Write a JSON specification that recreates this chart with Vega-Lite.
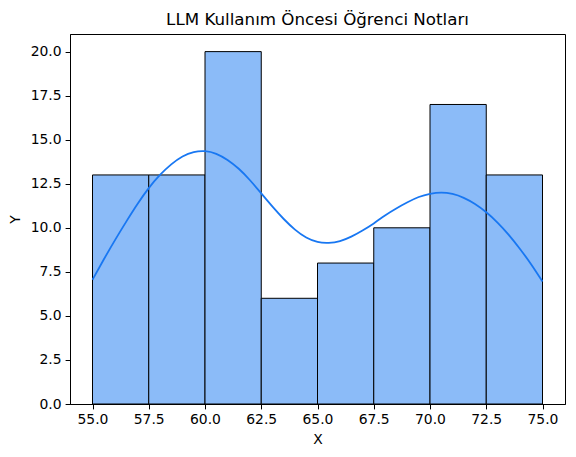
{
  "$schema": "https://vega.github.io/schema/vega-lite/v6.json",
  "width": 495,
  "height": 370,
  "autosize": {"type": "none"},
  "padding": {"left": 70, "top": 34, "right": 11, "bottom": 53},
  "background": "white",
  "config": {
    "font": "DejaVu Sans",
    "view": {"stroke": "black", "strokeWidth": 1},
    "axis": {
      "labelFont": "DejaVu Sans",
      "labelFontSize": 13.9,
      "labelColor": "black",
      "titleFont": "DejaVu Sans",
      "titleFontSize": 13.9,
      "titleFontWeight": "normal",
      "titleColor": "black",
      "domainColor": "black",
      "tickColor": "black",
      "tickSize": 4.9,
      "labelPadding": 4,
      "grid": false
    }
  },
  "title": {
    "text": "LLM Kullanım Öncesi Öğrenci Notları",
    "font": "DejaVu Sans",
    "fontSize": 16.7,
    "fontWeight": "normal",
    "color": "black",
    "anchor": "middle",
    "offset": 5
  },
  "datasets": {
    "bins": [
      {"bin_start": 55.0, "bin_end": 57.5, "count": 13},
      {"bin_start": 57.5, "bin_end": 60.0, "count": 13},
      {"bin_start": 60.0, "bin_end": 62.5, "count": 20},
      {"bin_start": 62.5, "bin_end": 65.0, "count": 6},
      {"bin_start": 65.0, "bin_end": 67.5, "count": 8},
      {"bin_start": 67.5, "bin_end": 70.0, "count": 10},
      {"bin_start": 70.0, "bin_end": 72.5, "count": 17},
      {"bin_start": 72.5, "bin_end": 75.0, "count": 13}
    ],
    "kde": [
      {"x": 55.0, "y": 7.05},
      {"x": 55.5, "y": 8.2},
      {"x": 56.0, "y": 9.3},
      {"x": 56.5, "y": 10.35},
      {"x": 57.0, "y": 11.35},
      {"x": 57.5, "y": 12.25},
      {"x": 58.0, "y": 13.0},
      {"x": 58.5, "y": 13.6},
      {"x": 59.0, "y": 14.05},
      {"x": 59.5, "y": 14.3},
      {"x": 60.0, "y": 14.35},
      {"x": 60.5, "y": 14.2},
      {"x": 61.0, "y": 13.85},
      {"x": 61.5, "y": 13.35},
      {"x": 62.0, "y": 12.7},
      {"x": 62.5, "y": 11.95},
      {"x": 63.0, "y": 11.2},
      {"x": 63.5, "y": 10.5},
      {"x": 64.0, "y": 9.9},
      {"x": 64.5, "y": 9.45},
      {"x": 65.0, "y": 9.2},
      {"x": 65.5, "y": 9.15},
      {"x": 66.0, "y": 9.25},
      {"x": 66.5, "y": 9.5},
      {"x": 67.0, "y": 9.85},
      {"x": 67.5, "y": 10.25},
      {"x": 68.0, "y": 10.7},
      {"x": 68.5, "y": 11.1},
      {"x": 69.0, "y": 11.45},
      {"x": 69.5, "y": 11.75},
      {"x": 70.0, "y": 11.93},
      {"x": 70.5, "y": 12.0},
      {"x": 71.0, "y": 11.92},
      {"x": 71.5, "y": 11.7},
      {"x": 72.0, "y": 11.35},
      {"x": 72.5, "y": 10.88},
      {"x": 73.0, "y": 10.3},
      {"x": 73.5, "y": 9.6},
      {"x": 74.0, "y": 8.8},
      {"x": 74.5, "y": 7.92},
      {"x": 75.0, "y": 6.95}
    ]
  },
  "layer": [
    {
      "data": {"name": "bins"},
      "mark": {"type": "bar", "fill": "#8bbbf8", "stroke": "black", "strokeWidth": 1, "opacity": 1},
      "encoding": {
        "x": {
          "field": "bin_start",
          "type": "quantitative",
          "scale": {"domain": [54, 76], "nice": false, "zero": false},
          "axis": {"title": "X", "values": [55, 57.5, 60, 62.5, 65, 67.5, 70, 72.5, 75], "format": ".1f", "titlePadding": 6}
        },
        "x2": {"field": "bin_end"},
        "y": {
          "field": "count",
          "type": "quantitative",
          "scale": {"domain": [0, 21], "nice": false},
          "axis": {"title": "Y", "values": [0, 2.5, 5, 7.5, 10, 12.5, 15, 17.5, 20], "format": ".1f", "titlePadding": 8}
        },
        "y2": {"datum": 0}
      }
    },
    {
      "data": {"name": "kde"},
      "mark": {"type": "line", "color": "#1877f2", "strokeWidth": 1.8, "interpolate": "natural"},
      "encoding": {
        "x": {"field": "x", "type": "quantitative"},
        "y": {"field": "y", "type": "quantitative"}
      }
    }
  ]
}
